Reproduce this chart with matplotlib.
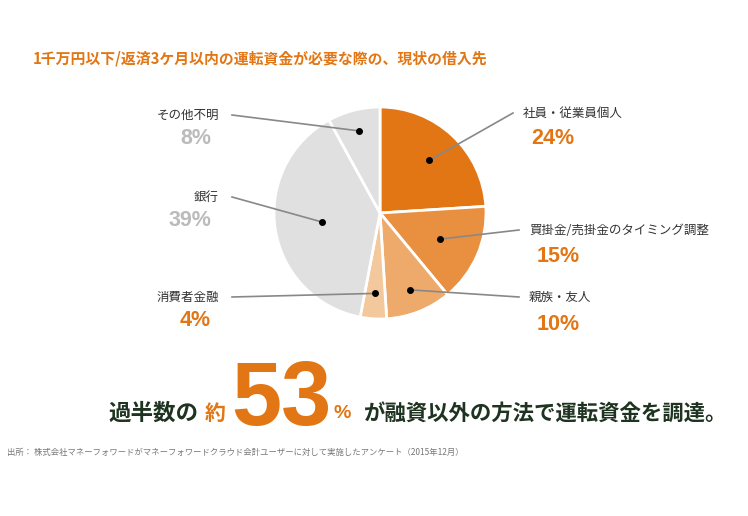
import numpy as np
import matplotlib
matplotlib.use("Agg")
import matplotlib.pyplot as plt

plt.rcParams['font.family'] = ['Noto Sans CJK JP', 'DejaVu Sans']

# ---- data ----
categories = ["社員・従業員個人", "買掛金/売掛金のタイミング調整", "親族・友人",
              "消費者金融", "銀行", "その他不明"]
values = [24, 15, 10, 4, 39, 8]
pct_labels = ["24%", "15%", "10%", "4%", "39%", "8%"]
title = "1千万円以下/返済3ケ月以内の運転資金が必要な際の、現状の借入先"
headline_pre = "過半数の"
headline_approx = "約"
headline_num = "53"
headline_pct = "%"
headline_post = "が融資以外の方法で運転資金を調達。"
source = "出所： 株式会社マネーフォワードがマネーフォワードクラウド会計ユーザーに対して実施したアンケート（2015年12月）"

# ---- style ----
colors = ["#E27614", "#E89040", "#EDAA6B", "#F3C89C", "#E0E0E0", "#E0E0E0"]
pct_colors = ["#E27614", "#E27614", "#E27614", "#E27614", "#BBBBBB", "#BBBBBB"]
orange = "#E27614"
dark = "#1E3320"
W, H = 748, 516

fig = plt.figure(figsize=(W / 100, H / 100), dpi=100)
ax = fig.add_axes([0, 0, 1, 1])

cx, cy, R = 380, H - 213, 106
wedges, _ = ax.pie(values, colors=colors, startangle=90, counterclock=False,
                   center=(cx, cy), radius=R, frame=True,
                   wedgeprops=dict(edgecolor='white', linewidth=2.0))
ax.set_xlim(0, W)
ax.set_ylim(0, H)
ax.set_aspect('equal')
ax.axis('off')

# label layout: (dot radius fraction, text anchor x, label y, pct y, side)
layout = [
    (0.68, 523, 113, 138, 'right'),
    (0.62, 529, 230, 256, 'right'),
    (0.78, 529, 297, 325, 'right'),
    (0.76, 219, 297, 320, 'left'),
    (0.55, 219, 197, 220, 'left'),
    (0.80, 219, 115, 138, 'left'),
]

for w, cat, pl, pc, (fr, tx, ly, py, side) in zip(wedges, categories, pct_labels, pct_colors, layout):
    th = np.deg2rad((w.theta1 + w.theta2) / 2)
    dx = cx + fr * R * np.cos(th)
    dy = cy + fr * R * np.sin(th)
    if side == 'right':
        lx = tx - 10
        ax.text(tx, H - ly, cat, ha='left', va='center', fontsize=9, color='#333333')
        ax.text(tx + 8, H - py, pl, ha='left', va='center', fontsize=15.5,
                fontweight='bold', color=pc, family='Liberation Sans')
    else:
        lx = tx + 13
        ax.text(tx, H - ly, cat, ha='right', va='center', fontsize=9, color='#333333')
        ax.text(tx - 8, H - py, pl, ha='right', va='center', fontsize=15.5,
                fontweight='bold', color=pc, family='Liberation Sans')
    ax.plot([lx, dx], [H - ly, dy], color='#888888', lw=1.2, zorder=5)
    ax.plot(dx, dy, 'o', color='black', ms=4, zorder=6)

# title
ax.text(33, H - 58, title, ha='left', va='center', fontsize=10.7, fontweight='bold', color=orange)

# headline
base = H - 413
ax.text(108, base, headline_pre, ha='left', va='center', fontsize=16.2, fontweight='bold', color=dark)
ax.text(205, base, headline_approx, ha='left', va='center', fontsize=15, fontweight='bold', color=orange)
ax.text(231, H - 425, headline_num, ha='left', va='baseline', fontsize=65, fontweight='bold',
        color=orange, family='Liberation Sans')
ax.text(334, base, headline_pct, ha='left', va='center', fontsize=14, fontweight='bold',
        color=orange, family='Liberation Sans')
ax.text(364, base, headline_post, ha='left', va='center', fontsize=15.4, fontweight='bold', color=dark)

# source
ax.text(7, H - 452, source, ha='left', va='center', fontsize=6, color='#777777')

fig.savefig("out.png", dpi=100, facecolor='white')
